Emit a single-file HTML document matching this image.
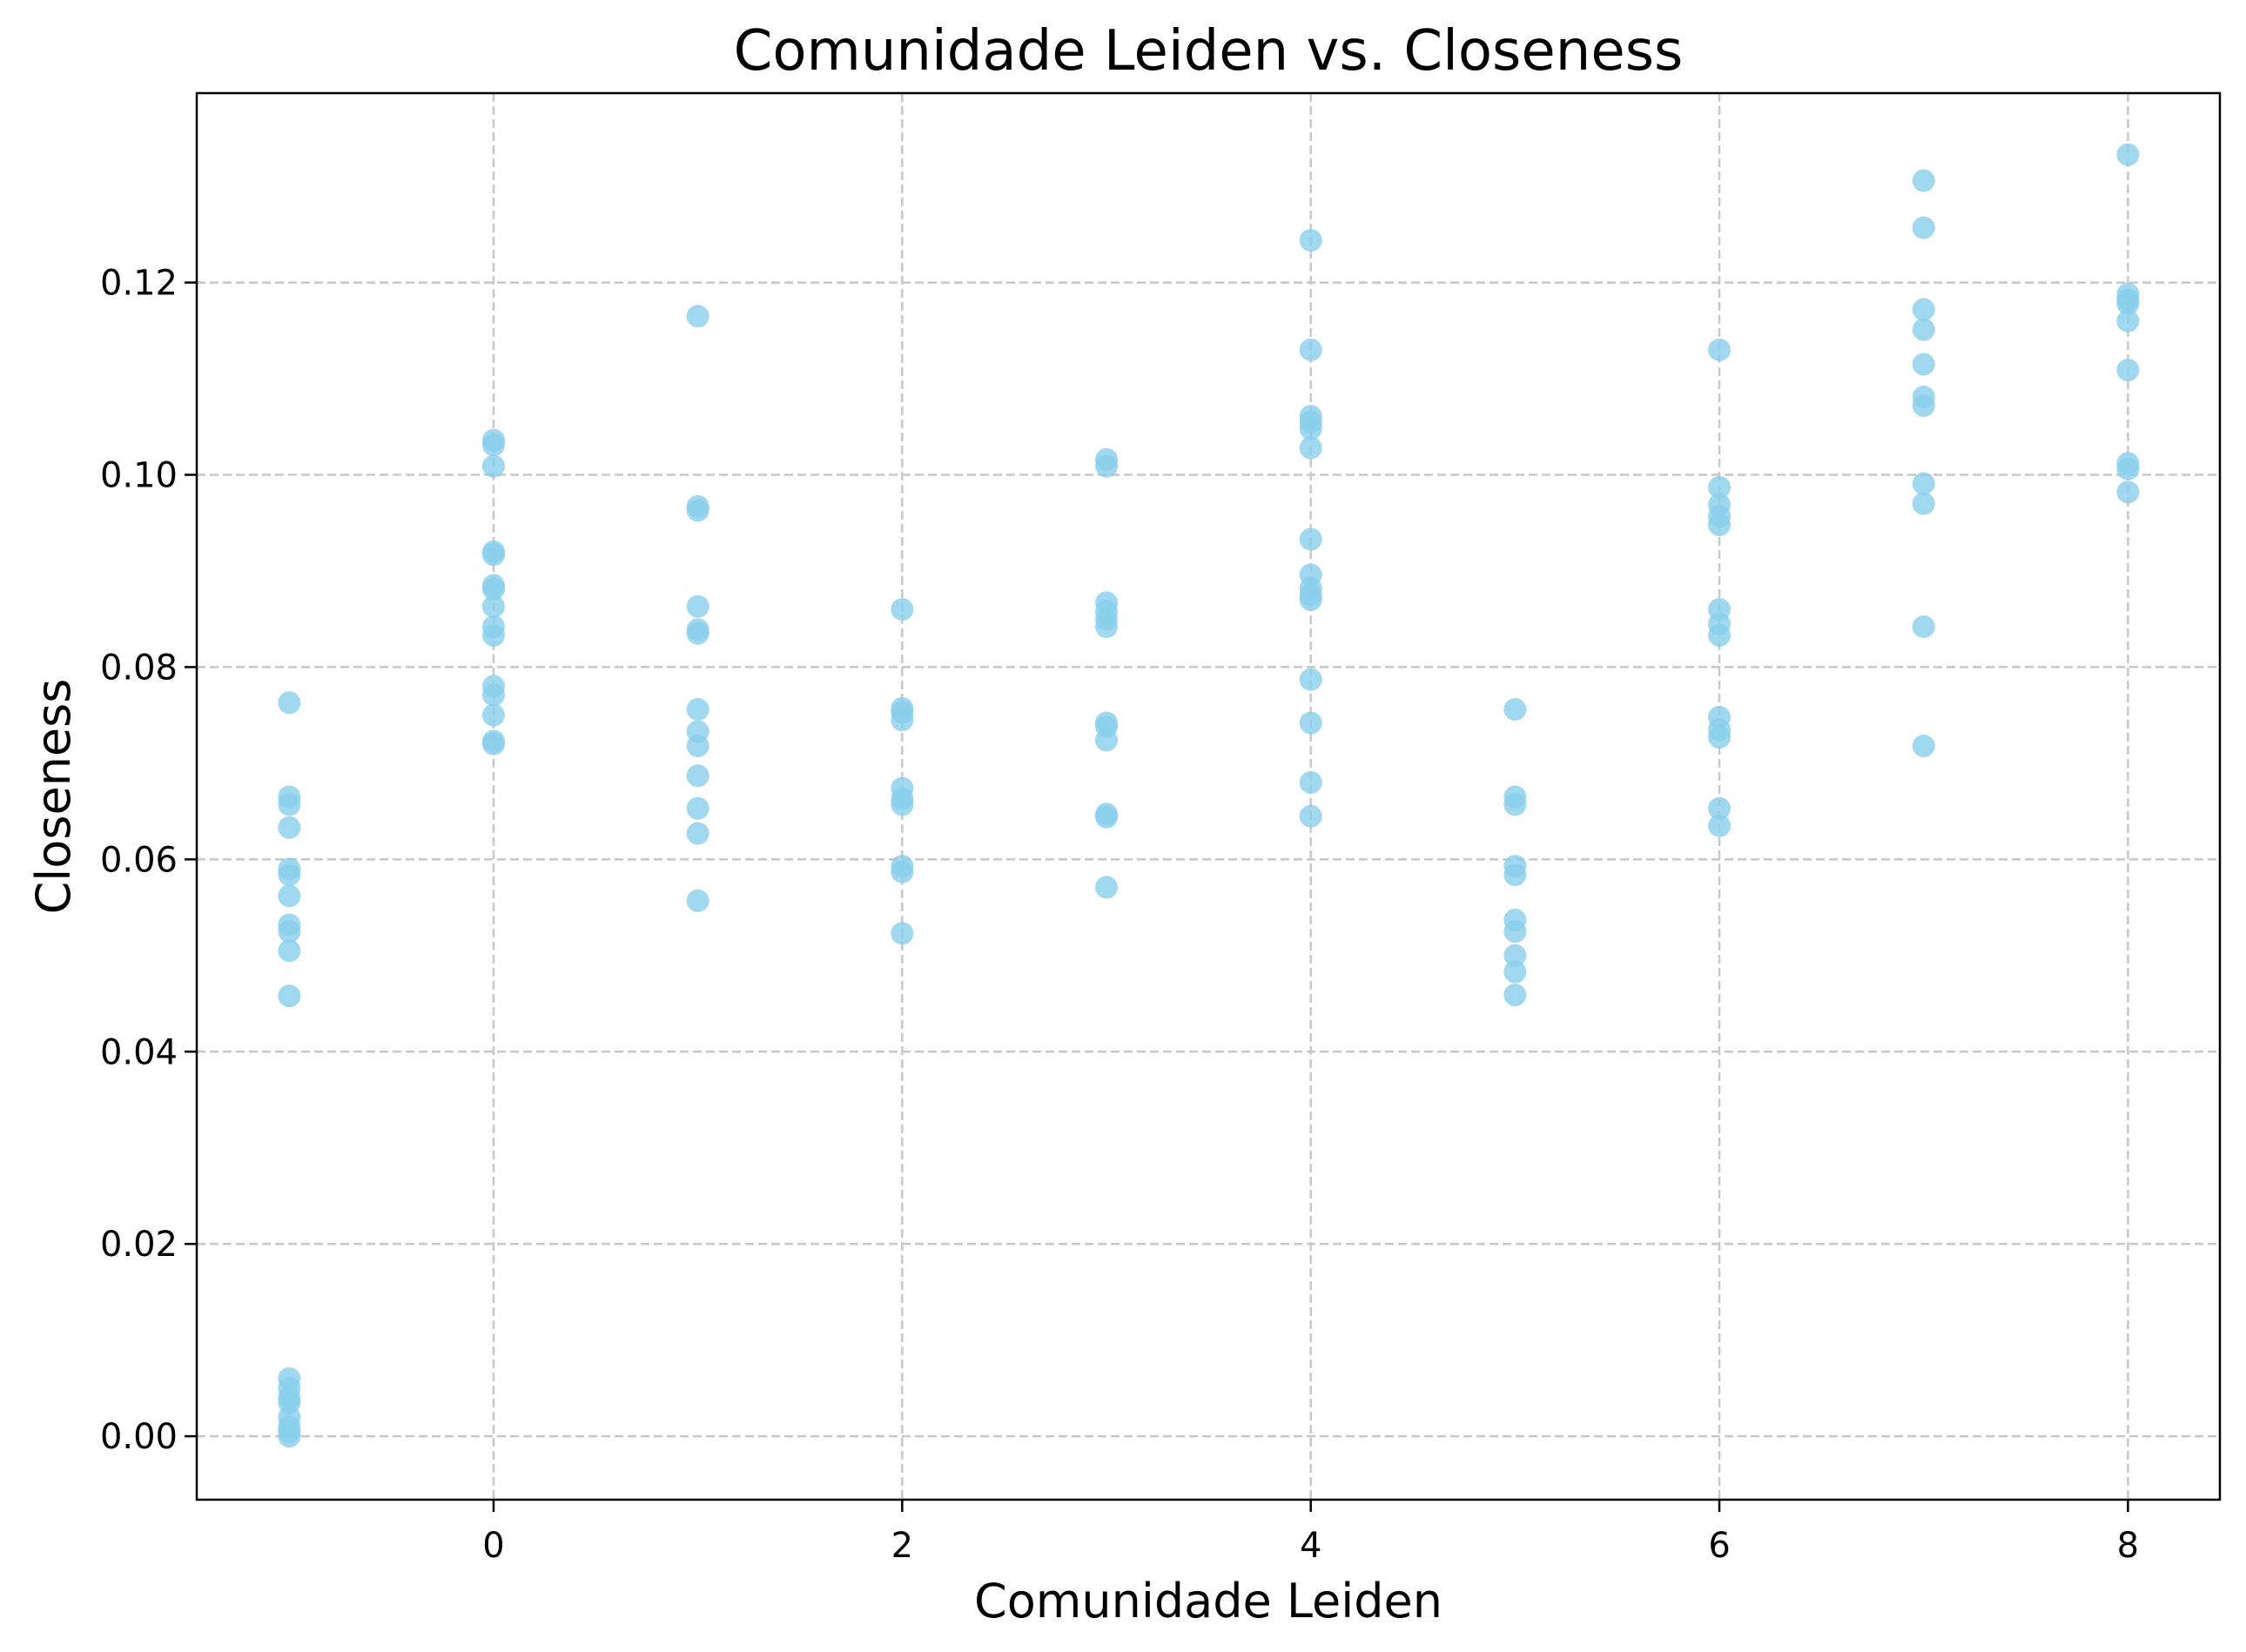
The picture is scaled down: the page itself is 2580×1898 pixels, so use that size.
<!DOCTYPE html>
<html><head><meta charset="utf-8"><style>
html,body{margin:0;padding:0;background:#fff;}
svg{display:block;font-family:"DejaVu Sans","Liberation Sans",sans-serif;}
</style></head><body>
<svg id="chart" width="2580" height="1898" viewBox="0 0 2580 1898" xmlns="http://www.w3.org/2000/svg">
<rect width="2580" height="1898" fill="#fff"/>
<g id="grid"></g><g id="marks"></g><g id="axes"></g>
<text x="1388" y="80" font-size="64" text-anchor="middle">Comunidade Leiden vs. Closeness</text>
<text x="1388" y="1858" font-size="54" text-anchor="middle">Comunidade Leiden</text>
<text transform="translate(80,915) rotate(-90)" font-size="54" text-anchor="middle">Closeness</text>
</svg>
<script>
const communities = [-1,0,1,2,3,4,5,6,7,8];
const closenessMinus1 = [0.0763,0.0665,0.0657,0.0633,0.059,0.0584,0.0562,0.0532,0.0525,0.0505,0.0458,0.006,0.005,0.004,0.0035,0.002,0.001,0.0005,0];
const closeness0 = [0.1036,0.1031,0.1009,0.092,0.0917,0.0885,0.0881,0.0863,0.0842,0.0833,0.078,0.0771,0.075,0.0723,0.072];
const closeness1 = [0.1165,0.0967,0.0963,0.0863,0.0839,0.0835,0.0756,0.0733,0.0718,0.0687,0.0653,0.0627,0.0557];
const closeness2 = [0.086,0.0757,0.0753,0.0745,0.0674,0.0663,0.0657,0.0593,0.0587,0.0523];
const closeness3 = [0.1016,0.1009,0.0867,0.0858,0.085,0.0842,0.0742,0.0738,0.0724,0.0647,0.0644,0.0571];
const closeness4 = [0.1244,0.113,0.1061,0.1055,0.1048,0.1028,0.0933,0.0896,0.0882,0.0875,0.087,0.0787,0.0742,0.068,0.0645];
const closeness5 = [0.0756,0.0665,0.0657,0.0593,0.0584,0.0537,0.0525,0.05,0.0483,0.0459];
const closeness6 = [0.113,0.0987,0.0969,0.0957,0.0948,0.086,0.0845,0.0833,0.0748,0.0735,0.0727,0.0653,0.0635];
const closeness7 = [0.1306,0.1257,0.1172,0.1151,0.1115,0.1081,0.1072,0.0991,0.097,0.0842,0.0718];
const closeness8 = [0.1333,0.1188,0.1182,0.1178,0.116,0.1109,0.1012,0.1006,0.0982];
const xTicks = [0,2,4,6,8];
const yTicks = [0,0.02,0.04,0.06,0.08,0.10,0.12];
const yTickLabels = ["0.00","0.02","0.04","0.06","0.08","0.10","0.12"];

const seriesByCommunity = [closenessMinus1,closeness0,closeness1,closeness2,closeness3,closeness4,closeness5,closeness6,closeness7,closeness8];
const L=226,R=2550,T=107,B=1723;
const xMin=-1.453,xMax=8.45,yMin=-0.0066,yMax=0.1397;
const sx=v=>L+(v-xMin)/(xMax-xMin)*(R-L);
const sy=v=>B-(v-yMin)/(yMax-yMin)*(B-T);
const NS="http://www.w3.org/2000/svg";
function mk(tag,attrs,parent){const e=document.createElementNS(NS,tag);for(const k in attrs)e.setAttribute(k,attrs[k]);parent.appendChild(e);return e;}
const grid=document.getElementById('grid'),marks=document.getElementById('marks'),axes=document.getElementById('axes');
xTicks.forEach(t=>{
  const x=sx(t);
  const g=mk('line',{x1:x,x2:x,y1:T,y2:B,stroke:'#c8c8c8','stroke-width':2.5,'stroke-dasharray':'10 5'},grid);
  
  
  const tk=mk('line',{x1:x,x2:x,y1:B,y2:B+14,stroke:'#000','stroke-width':2.5},axes);
  
  
  const tx=mk('text',{x:x,y:B+66,'font-size':40,'text-anchor':'middle'},axes);
  tx.textContent=String(t);
  
  
});
yTicks.forEach((t,i)=>{
  const y=sy(t);
  const g=mk('line',{x1:L,x2:R,y1:y,y2:y,stroke:'#c8c8c8','stroke-width':2.5,'stroke-dasharray':'10 5'},grid);
  
  
  const tk=mk('line',{x1:L-14,x2:L,y1:y,y2:y,stroke:'#000','stroke-width':2.5},axes);
  
  
  const tx=mk('text',{x:L-22,y:y+14,'font-size':40,'text-anchor':'end'},axes);
  tx.textContent=yTickLabels[i];
  
  
});
communities.forEach((c,i)=>{
  seriesByCommunity[i].forEach(v=>{
    const p=mk('circle',{cx:sx(c),cy:sy(v),r:13,fill:'#87ceeb','fill-opacity':0.8},marks);
    
    
  });
});
const frame=mk('rect',{x:L,y:T,width:R-L,height:B-T,fill:'none',stroke:'#000','stroke-width':2.5},axes);


</script>
</body></html>
